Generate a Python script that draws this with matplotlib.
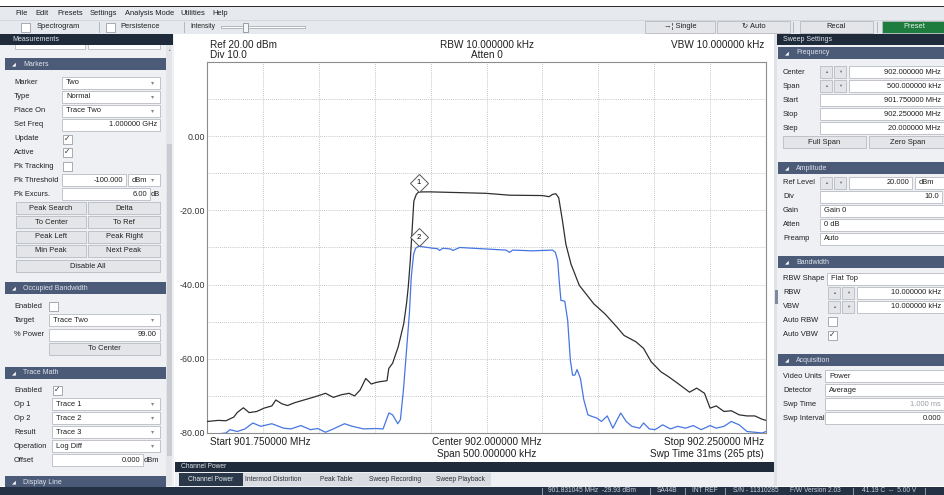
import numpy as np
import matplotlib
matplotlib.use('Agg')
import matplotlib.pyplot as plt
from matplotlib.patches import Rectangle
from matplotlib.transforms import offset_copy

plt.rcParams['font.family'] = ['Liberation Sans', 'DejaVu Sans']

# sweep settings
start_mhz = 901.75
stop_mhz = 902.25
ref_dbm = 20.0
div_db = 10.0

# trace 1 (black): offset from start in kHz, level in dBm
trace1_khz = [0, 10, 17, 24, 27, 32.5, 37.7, 44.5, 51, 58, 61.6, 66.8, 72, 78.8,
              85.6, 92.5, 99, 106, 113, 120, 127, 132, 137, 142, 147, 151, 154,
              161, 162.6, 166, 171, 176, 178.5, 180, 181.8, 183.6, 185, 187.2,
              189.3, 199, 225, 249.7, 270.5, 300, 306, 309, 312, 314.6, 318, 321,
              325.6, 333, 339, 346, 356, 366.5, 373, 383.6, 390.5, 397.3, 406,
              412.7, 421, 431.6, 438, 445, 450, 455.5, 462.4, 469, 476, 483, 490,
              496.6, 500]
trace1_dbm = [-76.9, -76.6, -76.7, -75.7, -74.5, -73.2, -74.5, -74.2, -73.3, -72.7,
              -71.1, -72.1, -72.6, -71.8, -71.2, -70.6, -70.0, -69.3, -70.4, -69.7,
              -69.3, -70.0, -68.4, -65.3, -66.8, -66.4, -66.2, -65.9, -62.6, -61.2,
              -56.8, -50.5, -45.0, -40.7, -33.6, -24.6, -17.5, -15.7, -15.03, -15.0,
              -15.2, -15.4, -15.9, -16.0, -16.3, -15.7, -15.5, -16.6, -22.9, -29.1,
              -34.5, -40.2, -42.5, -45.2, -47.9, -51.4, -53.7, -55.4, -57.2, -60.8,
              -63.5, -64.8, -66.6, -69.0, -67.9, -69.3, -73.3, -72.7, -74.2, -74.0,
              -75.1, -75.4, -75.4, -76.3, -76.6]

# trace 2 (blue)
trace2_khz = [0, 8, 17, 20.5, 27, 34, 41, 48, 58, 68.5, 75, 84, 92.5, 99, 106, 113,
              123, 130, 140, 151, 157.5, 162.7, 166, 170.6, 173, 175.7, 178, 181,
              182.7, 184.8, 186.6, 189.3, 202, 206, 208, 211, 218, 220, 226, 249.7,
              267.5, 270.5, 273.5, 291, 309, 311.6, 313.7, 315, 316.6, 318, 320,
              322.6, 325, 327, 329, 331, 334, 337, 340.7, 344, 349, 352.8, 358, 363,
              370, 375, 380, 387, 390.5, 395.6, 400.7, 407.6, 414.5, 421, 428, 435,
              442, 450, 455.5, 462.4, 469, 476, 483, 490, 496.6, 500]
trace2_dbm = [-80.5, -80.3, -80.0, -79.1, -79.6, -78.9, -77.3, -78.2, -77.5, -78.7,
              -78.9, -78.0, -79.1, -78.8, -79.8, -78.9, -77.5, -78.2, -78.9, -78.8,
              -78.9, -74.6, -75.1, -77.5, -76.4, -68.4, -59.5, -47.9, -38.0, -31.8,
              -30.2, -29.64, -30.2, -30.3, -30.8, -30.2, -30.4, -30.8, -30.0, -30.4,
              -30.7, -31.3, -30.7, -30.9, -30.7, -31.3, -33.6, -38.9, -44.3, -44.3,
              -44.5, -49.6, -60.4, -64.4, -64.4, -62.9, -65.3, -71.0, -75.1, -75.5,
              -76.0, -76.9, -75.4, -78.7, -74.6, -76.9, -78.2, -78.7, -77.3, -78.9,
              -79.1, -77.8, -78.9, -78.2, -78.7, -78.0, -79.1, -78.0, -78.7, -78.2,
              -76.9, -77.8, -79.6, -79.8, -80.0, -79.6]

marker_ids = ['1', '2']
marker_mhz = [901.939293, 901.939293]
marker_dbm = [-15.03, -29.64]

level_labels = [0, -20, -40, -60, -80]

W, H = 944, 495
fig = plt.figure(figsize=(W / 100, H / 100), dpi=100)
gui = fig.add_axes([0, 0, 1, 1])
gui.set_xlim(0, W)
gui.set_ylim(H, 0)
gui.axis('off')

PANEL = '#eef0f3'
BAR = '#e6e9ed'
NAVY = '#1f2b3b'
SECTION = '#4b5a77'
EDGE = '#b7bbc1'
BTN = '#e3e5e8'
INK = '#1f1f1f'


def rect(x, y, w, h, fc, ec='none', lw=0.6, z=1):
    gui.add_patch(Rectangle((x, y), w, h, fc=fc, ec=ec, lw=lw, zorder=z))


def label(x, y, s, size=5.4, color=INK, ha='left', **kw):
    gui.text(x, y, s, fontsize=size, color=color, ha=ha, va='center', zorder=6, **kw)


def header(x0, x1, y, s):
    rect(x0, y, x1 - x0, 12, SECTION)
    label(x0 + 7, y + 6, '◢', size=3.6, color='white')
    label(x0 + 18, y + 6, s, size=5, color='#dfe5ec')


def field(x0, x1, y, s='', align='left', drop=False, color=INK):
    rect(x0, y - 6, x1 - x0, 12, 'white', EDGE, z=2)
    if align == 'left':
        label(x0 + 4, y, s, color=color)
    else:
        label(min(x1, W) - (14 if drop else 3), y, s, color=color, ha='right')
    if drop:
        label(x1 - 7, y, '▾', size=4.5, color='#888', ha='center')


def check(x, y, on=False):
    rect(x, y - 4.5, 9, 9, 'white', '#9a9fa6', z=2)
    if on:
        label(x + 4.5, y, '✓', size=5.5, color='#333', ha='center')


def button(x0, x1, y, s, fc=BTN, color=INK):
    rect(x0, y - 6, x1 - x0, 12, fc, EDGE, z=2)
    label((x0 + x1) / 2, y, s, ha='center', color=color)


def spin(x, y):
    for dx, g in ((0, '▲'), (14, '▼')):
        rect(x + dx, y - 6, 12, 12, BTN, EDGE, z=2)
        label(x + dx + 6, y, g, size=3, color='#777', ha='center')


# ---- title / menu / toolbar ----
rect(0, 0, W, 6, 'white')
rect(0, 6, W, 1.2, '#2a2a2a', z=2)
rect(0, 7, W, 27, BAR)
for x, s in [(15, 'File'), (35, 'Edit'), (57, 'Presets'), (90, 'Settings'),
             (125, 'Analysis Mode'), (180, 'Utilities'), (212, 'Help')]:
    label(x, 13.5, s)
rect(0, 20, W, 0.6, '#d3d7dc')
check(21, 27)
label(37, 27, 'Spectrogram')
rect(99, 22, 0.8, 11, '#b5b9bf')
check(106, 27)
label(120, 27, 'Persistence')
rect(184, 22, 0.8, 11, '#b5b9bf')
label(190, 27, 'Intensity', size=4.8)
rect(221, 26, 84, 2.2, 'white', '#a9adb3')
rect(243, 22.5, 5, 9, '#f6f6f6', '#8d9299', z=2)
button(645, 715, 27, '→¦ Single')
button(717, 790, 27, '↻ Auto')
rect(793, 22, 0.8, 11, '#b5b9bf')
button(800, 873, 27, 'Recal')
rect(877, 22, 0.8, 11, '#b5b9bf')
button(882, 946, 27, 'Preset', fc='#1e7d3e', color='#e8f3ea')

# ---- left panel ----
rect(0, 34, 174, 452, PANEL)
rect(15, 43, 70, 6, 'white', EDGE)
rect(88, 43, 72, 6, 'white', EDGE)
rect(0, 34, 173, 11, NAVY, z=3)
label(12, 39.5, 'Measurements', size=5, color='#dfe5ec')
rect(166, 45, 6, 441, '#e3e5e8')
rect(167, 144, 4.5, 312, '#c9ccd1')
label(169, 50, '▲', size=2.5, color='#888', ha='center')

header(5, 166, 58, 'Markers')
rows = [(83, 'Marker'), (97, 'Type'), (111, 'Place On'), (125, 'Set Freq'),
        (139, 'Update'), (152, 'Active'), (166, 'Pk Tracking'),
        (180, 'Pk Threshold'), (194, 'Pk Excurs.')]
for y, s in rows:
    label(14, y, s)
field(62, 160, 83, 'Two', drop=True)
field(62, 160, 97, 'Normal', drop=True)
field(62, 160, 111, 'Trace Two', drop=True)
field(62, 160, 125, '1.000000 GHz', align='right')
check(63, 139, True)
check(63, 152, True)
check(63, 166)
field(62, 126, 180, '-100.000', align='right')
field(128, 160, 180, 'dBm', drop=True)
field(62, 150, 194, '6.00', align='right')
label(151, 194, 'dB')
for y, a, b in [(208, 'Peak Search', 'Delta'), (222, 'To Center', 'To Ref'),
                (237, 'Peak Left', 'Peak Right'), (251, 'Min Peak', 'Next Peak')]:
    button(16, 86, y, a)
    button(88, 160, y, b)
button(16, 160, 266, 'Disable All')

header(5, 166, 282, 'Occupied Bandwidth')
label(14, 306, 'Enabled')
check(49, 306)
label(14, 320, 'Target')
field(49, 160, 320, 'Trace Two', drop=True)
label(14, 335, '% Power')
field(49, 160, 335, '99.00', align='right')
button(49, 160, 349, 'To Center')

header(5, 166, 367, 'Trace Math')
label(14, 390, 'Enabled')
check(53, 390, True)
for y, a, b in [(404, 'Op 1', 'Trace 1'), (418, 'Op 2', 'Trace 2'),
                (432, 'Result', 'Trace 3'), (446, 'Operation', 'Log Diff')]:
    label(14, y, a)
    field(52, 160, y, b, drop=True)
label(14, 460, 'Offset')
field(52, 143, 460, '0.000', align='right')
label(144, 460, 'dBm')
header(5, 166, 476, 'Display Line')

# ---- centre area ----
rect(175, 34, 599, 428, 'white')
rect(175, 462, 600, 10, NAVY)
label(181, 467, 'Channel Power', size=4.8, color='#dfe5ec')
rect(175, 472, 600, 15, PANEL)
rect(243, 473, 248, 13, '#d9dce0')
rect(179, 473, 64, 13, '#2b3849')
label(211, 479.5, 'Channel Power', size=4.8, color='#e6ebf0', ha='center')
for x, s in [(273, 'Intermod Distortion'), (336, 'Peak Table'),
             (395, 'Sweep Recording'), (460, 'Sweep Playback')]:
    label(x, 479.5, s, size=4.8, color='#2a2f36', ha='center')

# ---- right panel ----
rect(774, 34, 170, 452, PANEL)
rect(774, 34, 3, 452, '#dfe2e6')
rect(775, 290, 3, 14, '#7d8aa0')
rect(777, 34, 170, 11, NAVY)
label(783, 39.5, 'Sweep Settings', size=5, color='#dfe5ec')
header(778, 946, 47, 'Frequency')
for y, s in [(72, 'Center'), (86, 'Span'), (100, 'Start'), (114, 'Stop'), (128, 'Step')]:
    label(783, y, s)
spin(820, 72)
field(849, 946, 72, '902.000000 MHz', align='right')
spin(820, 86)
field(849, 946, 86, '500.000000 kHz', align='right')
field(820, 946, 100, '901.750000 MHz', align='right')
field(820, 946, 114, '902.250000 MHz', align='right')
field(820, 946, 128, '20.000000 MHz', align='right')
button(783, 866, 142, 'Full Span')
button(869, 946, 142, 'Zero Span')

header(778, 946, 162, 'Amplitude')
for y, s in [(183, 'Ref Level'), (197, 'Div'), (211, 'Gain'), (225, 'Atten'), (239, 'Preamp')]:
    label(783, y, s)
spin(820, 183)
field(849, 912, 183, '20.000', align='right')
field(915, 946, 183, 'dBm')
field(820, 942, 197, '10.0', align='right')
field(820, 946, 211, 'Gain 0')
field(820, 946, 225, '0 dB')
field(820, 946, 239, 'Auto')

header(778, 946, 256, 'Bandwidth')
for y, s in [(279, 'RBW Shape'), (293, 'RBW'), (307, 'VBW'), (321, 'Auto RBW'), (335, 'Auto VBW')]:
    label(783, y, s)
field(827, 946, 279, 'Flat Top')
spin(828, 293)
field(857, 948, 293, '10.000000 kHz', align='right')
spin(828, 307)
field(857, 948, 307, '10.000000 kHz', align='right')
check(828, 321)
check(828, 335, True)

header(778, 946, 354, 'Acquisition')
for y, s in [(376, 'Video Units'), (390, 'Detector'), (404, 'Swp Time'), (418, 'Swp Interval')]:
    label(783, y, s)
field(825, 946, 376, 'Power')
field(825, 946, 390, 'Average')
field(825, 946, 404, '1.000 ms', align='right', color='#9a9ea4')
field(825, 946, 418, '0.000', align='right')

# ---- status bar ----
rect(0, 487, W, 8, '#243044')
for x in [542, 650, 685, 725, 853, 925]:
    rect(x, 488, 0.7, 7, '#8a95a5', z=2)
for x, s in [(548, '901.831045 MHz  -29.93 dBm'), (657, 'SA44B'), (692, 'INT REF'),
             (733, 'S/N - 11310285'), (790, 'F/W Version 2.03'), (862, '41.19 C  --  5.00 V')]:
    label(x, 491, s, size=4.8, color='#c9d1db')

# ---- spectrum plot ----
ax = fig.add_axes([207 / W, 1 - 433 / H, 559 / W, 371 / H])
f1 = start_mhz + np.array(trace1_khz) / 1000
f2 = start_mhz + np.array(trace2_khz) / 1000
ax.plot(f1, trace1_dbm, color='#2f2f2f', lw=0.9, zorder=3)
ax.plot(f2, trace2_dbm, color='#4676e2', lw=0.9, zorder=3)
ax.set_xlim(start_mhz, stop_mhz)
ax.set_ylim(ref_dbm - 10 * div_db, ref_dbm)
ax.set_xticks(np.linspace(start_mhz, stop_mhz, 11))
levels = np.arange(ref_dbm - 10 * div_db, ref_dbm + 1, div_db)
ax.set_yticks(levels)
ax.set_yticklabels([f'{v:.2f}' if v in level_labels else '' for v in levels])
ax.set_xticklabels([])
ax.tick_params(length=0, pad=1.5, labelsize=6.4, labelcolor='#333')
ax.grid(True, color='#b3b3b3', lw=0.6, ls=(0, (1, 1.5)))
for sp in ax.spines.values():
    sp.set_color('#8c8c8c')
    sp.set_linewidth(0.8)

up = offset_copy(ax.transData, fig=fig, y=6.5, units='points')
for mid, mf, md in zip(marker_ids, marker_mhz, marker_dbm):
    ax.plot(mf, md, marker='D', ms=9, mfc='white', mec='#555', mew=0.7,
            transform=up, clip_on=False, zorder=5)
    ax.text(mf, md, mid, transform=up, ha='center', va='center', fontsize=5.5, zorder=6)

for i, (mid, mf, md) in enumerate(zip(marker_ids, marker_mhz, marker_dbm)):
    label(763, 67 + 13 * i, f'Mkr {mid}: {mf:.6f} MHz, {md:.2f} dBm', size=7.2, ha='right')

label(210, 45, f'Ref {ref_dbm:.2f} dBm', size=7.2)
label(210, 55.5, f'Div {div_db:.1f}', size=7.2)
label(487, 45, 'RBW 10.000000 kHz', size=7.2, ha='center')
label(487, 55.5, 'Atten 0', size=7.2, ha='center')
label(764, 45, 'VBW 10.000000 kHz', size=7.2, ha='right')
label(210, 442, f'Start {start_mhz:.6f} MHz', size=7.2)
label(487, 442, f'Center {(start_mhz + stop_mhz) / 2:.6f} MHz', size=7.2, ha='center')
label(487, 454, f'Span {(stop_mhz - start_mhz) * 1000:.6f} kHz', size=7.2, ha='center')
label(764, 442, f'Stop {stop_mhz:.6f} MHz', size=7.2, ha='right')
label(764, 454, 'Swp Time 31ms (265 pts)', size=7.2, ha='right')

fig.savefig('out.png', dpi=100)
